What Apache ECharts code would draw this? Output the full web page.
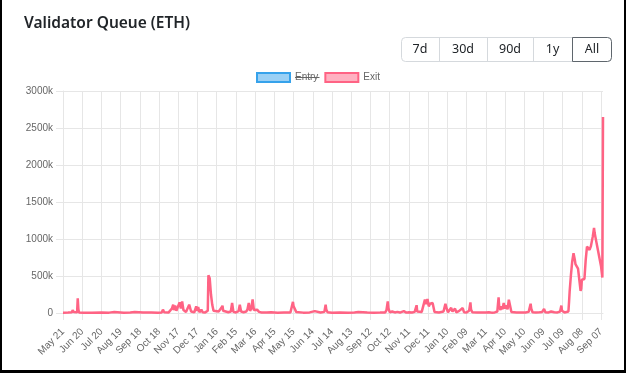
<!DOCTYPE html>
<html><head><meta charset="utf-8">
<script src="https://cdn.jsdelivr.net/npm/echarts@6/dist/echarts.min.js"></script>
<style>
html,body{margin:0;padding:0;background:#fff;}
#chart{width:626px;height:373px;}
#frame{position:absolute;left:0;top:0;width:626px;height:373px;box-sizing:border-box;border-left:2px solid #000;border-right:2px solid #000;border-bottom:3px solid #000;pointer-events:none;}
</style></head><body>
<div id="chart"></div><div id="frame"></div>
<script>
// ---- data ----
const chartTitle = 'Validator Queue (ETH)';
const rangeButtons = ['7d', '30d', '90d', '1y', 'All'];
const seriesNames = ['Entry', 'Exit'];
const startDate = '2023-05-21';
const dayCount = 844;
const tickLabels = ['May 21','Jun 20','Jul 20','Aug 19','Sep 18','Oct 18','Nov 17','Dec 17','Jan 16','Feb 15',
  'Mar 16','Apr 15','May 15','Jun 14','Jul 14','Aug 13','Sep 12','Oct 12','Nov 11','Dec 11','Jan 10','Feb 09',
  'Mar 11','Apr 10','May 10','Jun 09','Jul 09','Aug 08','Sep 07'];
const yTicksK = [0, 500, 1000, 1500, 2000, 2500, 3000];
const entryK = [];  // hidden series
const exitDay = [0,8,14,15,16,17,20,22,23,24,25,32,45,60,72,80,82,95,105,112,114,125,138,148,154,156,158,165,168,170,
  172,173,175,177,179,182,184,186,188,190,192,195,197,199,200,203,205,208,210,211,213,216,218,222,225,226,227,228,229,231,
  233,235,238,243,245,247,249,250,253,258,262,264,266,270,274,276,278,282,286,288,290,292,294,296,298,300,303,306,310,318,
  325,335,345,355,358,359,360,362,364,367,375,385,393,395,402,408,410,411,413,420,432,445,455,461,463,475,485,495,503,505,
  507,508,510,514,518,522,526,532,534,536,540,545,549,552,553,556,560,563,565,567,569,571,573,575,577,579,580,583,587,590,
  594,596,597,599,601,604,606,608,610,612,614,618,620,624,626,630,634,636,637,639,642,646,652,660,665,667,669,674,678,680,
  681,683,684,686,688,690,692,694,696,698,700,703,708,715,722,727,729,730,731,733,738,744,748,751,753,758,762,765,767,769,
  772,776,778,779,783,786,789,790,791,793,795,797,799,800,802,804,806,808,809,810,812,814,816,818,820,822,824,827,829,830,
  832,834,837,840,842,843];
const exitK = [5,6,10,40,35,12,6,10,200,50,8,5,4,7,5,12,5,4,6,14,5,6,8,5,8,45,10,8,20,60,
  112,40,100,30,15,144,60,157,40,60,15,20,112,110,20,45,10,90,30,80,10,45,10,8,10,30,510,526,470,250,
  110,30,10,20,45,67,98,30,15,10,20,135,15,8,25,110,20,10,20,50,135,30,60,185,40,25,45,15,8,6,
  10,5,8,6,20,150,90,95,15,6,5,8,25,5,6,15,112,45,10,5,6,5,8,15,5,6,4,6,8,40,
  157,67,10,20,8,15,6,25,20,5,10,8,15,105,20,10,15,30,180,120,189,90,125,110,135,125,15,10,8,15,
  20,40,125,58,10,15,70,20,40,60,10,25,8,67,10,8,30,144,45,10,20,8,6,8,10,35,5,8,20,211,
  80,40,90,50,135,60,103,50,180,175,15,10,8,6,8,15,40,125,60,10,8,10,15,54,10,8,20,35,10,15,
  8,20,100,30,8,10,20,150,300,520,700,808,720,660,670,600,450,300,330,449,449,460,718,898,920,853,900,1032,1150,1080,
  988,898,763,628,480,2650];

// ---- build ----
const categories = [];
{
  const d0 = new Date(startDate + 'T00:00:00Z');
  for (let i = 0; i < dayCount; i++) {
    const d = new Date(d0.getTime() + i * 86400000);
    categories.push(d.toISOString().slice(0, 10));
  }
}
const exitData = exitDay.map((d, k) => [d, exitK[k] * 1000]);
const entryData = entryK.map((v, k) => [k, v * 1000]);

const axisFont = '"Liberation Sans", Arial, Helvetica, sans-serif';
const uiFont = '"Noto Sans", "Open Sans", sans-serif';
const gridColor = '#e6e6e6';

const btnEdges = [401, 439, 487, 533, 572, 612];
const graphics = [];
graphics.push({ type: 'rect', shape: { x: btnEdges[0] + 0.5, y: 37.5, width: btnEdges[5] - btnEdges[0] - 1, height: 24, r: 4 },
  style: { fill: '#fff', stroke: '#d5d9dd', lineWidth: 1 }, z: 10 });
for (let i = 1; i < 4; i++) {
  graphics.push({ type: 'line', shape: { x1: btnEdges[i] + 0.5, y1: 38, x2: btnEdges[i] + 0.5, y2: 61 },
    style: { stroke: '#d5d9dd', lineWidth: 1 }, z: 11 });
}
graphics.push({ type: 'rect', shape: { x: btnEdges[4] + 0.5, y: 37.5, width: btnEdges[5] - btnEdges[4] - 1, height: 24, r: [0, 4, 4, 0] },
  style: { fill: '#fff', stroke: '#5f666d', lineWidth: 1 }, z: 12 });
rangeButtons.forEach((t, i) => {
  graphics.push({ type: 'text', x: (btnEdges[i] + btnEdges[i + 1]) / 2, y: 49.5,
    style: { text: t, fill: '#212529', font: '12.5px ' + uiFont, textAlign: 'center', textVerticalAlign: 'middle' }, z: 13 });
});
// strike-through on hidden "Entry" legend item
graphics.push({ type: 'line', shape: { x1: 295, y1: 77.5, x2: 319.5, y2: 77.5 }, style: { stroke: '#666', lineWidth: 1 }, z: 20 });

const chart = echarts.init(document.getElementById('chart'), null, { renderer: 'canvas' });
chart.setOption({
  animation: false,
  backgroundColor: '#fff',
  title: {
    text: chartTitle, left: 19, top: 11,
    textStyle: { fontFamily: uiFont, fontSize: 15.5, fontWeight: 600, color: '#212529' }
  },
  legend: {
    left: 251, top: 67, itemWidth: 33, itemHeight: 9, itemGap: 6, selectedMode: false,
    textStyle: { fontFamily: axisFont, fontSize: 10, color: '#666' },
    data: [
      { name: seriesNames[0], icon: 'rect', itemStyle: { color: 'rgba(54,162,235,0.5)', borderColor: 'rgb(54,162,235)', borderWidth: 2 } },
      { name: seriesNames[1], icon: 'rect', itemStyle: { color: 'rgba(255,99,132,0.5)', borderColor: 'rgb(255,99,132)', borderWidth: 2 } }
    ]
  },
  grid: { left: 63, right: 23, top: 91, bottom: 60, containLabel: false },
  xAxis: {
    type: 'category', data: categories, boundaryGap: false,
    axisLine: { show: true, lineStyle: { color: gridColor } },
    axisTick: { show: true, interval: 29, length: 7, lineStyle: { color: gridColor } },
    splitLine: { show: true, interval: 29, lineStyle: { color: gridColor } },
    axisLabel: {
      interval: 29, rotate: 45, margin: 17, fontFamily: axisFont, fontSize: 10, color: '#666',
      formatter: (v, idx) => tickLabels[Math.round(idx / 30)]
    }
  },
  yAxis: {
    type: 'value', min: yTicksK[0] * 1000, max: yTicksK[yTicksK.length - 1] * 1000, interval: 500000,
    axisLine: { show: true, lineStyle: { color: gridColor } },
    axisTick: { show: true, length: 7, lineStyle: { color: gridColor } },
    splitLine: { show: true, lineStyle: { color: gridColor } },
    axisLabel: {
      margin: 10, fontFamily: axisFont, fontSize: 10, color: '#666',
      formatter: v => v === 0 ? '0' : (v / 1000) + 'k'
    }
  },
  series: [
    { name: seriesNames[0], type: 'line', data: entryData, showSymbol: false,
      itemStyle: { color: 'rgba(54,162,235,0.5)' }, lineStyle: { color: 'rgb(54,162,235)', width: 2 } },
    { name: seriesNames[1], type: 'line', data: exitData, showSymbol: false,
      itemStyle: { color: 'rgba(255,99,132,0.5)' }, lineStyle: { color: 'rgb(255,99,132)', width: 2.5 } }
  ],
  graphic: graphics
});
</script>
</body></html>
